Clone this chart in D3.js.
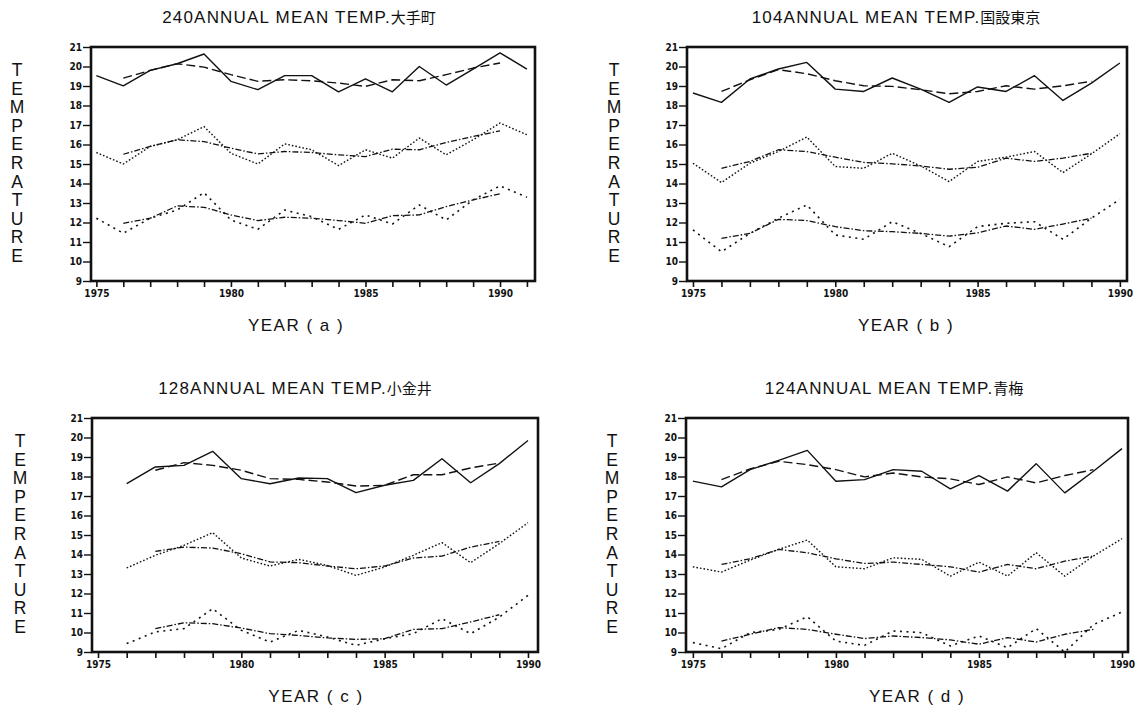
<!DOCTYPE html>
<html>
<head>
<meta charset="utf-8">
<script src="https://cdn.jsdelivr.net/npm/d3@7"></script>
<style>
body { margin: 0; background: #fff; }
</style>
</head>
<body>
<div id="chart"></div>
<script>
// station titles and x-axis captions
const titles = ["240ANNUAL MEAN TEMP.", "104ANNUAL MEAN TEMP.", "128ANNUAL MEAN TEMP.", "124ANNUAL MEAN TEMP."];
const stations = ["大手町", "国設東京", "小金井", "青梅"];
const yearLabels = ["YEAR ( a )", "YEAR ( b )", "YEAR ( c )", "YEAR ( d )"];
const yTicks = [9, 10, 11, 12, 13, 14, 15, 16, 17, 18, 19, 20, 21];
const xLabelYears = [1975, 1980, 1985, 1990];

// (a) 大手町
const yearsA = [1975,1976,1977,1978,1979,1980,1981,1982,1983,1984,1985,1986,1987,1988,1989,1990,1991];
const avgYearsA = [1976,1977,1978,1979,1980,1981,1982,1983,1984,1985,1986,1987,1988,1989,1990];
const hiA = [19.53,19.01,19.8,20.14,20.64,19.24,18.81,19.53,19.53,18.7,19.37,18.7,20.0,19.05,19.87,20.7,19.87];
const hiAvgA = [19.4,19.8,20.14,19.97,19.58,19.24,19.32,19.27,19.15,18.98,19.32,19.27,19.58,19.92,20.18];
const meanA = [15.59,15.0,15.9,16.24,16.92,15.55,15.0,16.03,15.73,14.92,15.73,15.3,16.33,15.47,16.24,17.1,16.5];
const meanAvgA = [15.5,15.9,16.24,16.15,15.81,15.52,15.64,15.59,15.47,15.38,15.76,15.73,16.1,16.41,16.7];
const loA = [12.22,11.45,12.22,12.64,13.53,12.13,11.65,12.64,12.3,11.65,12.39,11.92,12.9,12.13,13.16,13.88,13.3];
const loAvgA = [11.96,12.22,12.85,12.78,12.39,12.1,12.27,12.22,12.1,11.96,12.35,12.39,12.82,13.16,13.47];

// (b) 国設東京
const yearsB = [1975,1976,1977,1978,1979,1980,1981,1982,1983,1984,1985,1986,1987,1988,1989,1990];
const avgYearsB = [1976,1977,1978,1979,1980,1981,1982,1983,1984,1985,1986,1987,1988,1989];
const hiB = [18.64,18.16,19.36,19.87,20.21,18.84,18.72,19.41,18.84,18.16,18.95,18.72,19.53,18.26,19.15,20.18];
const hiAvgB = [18.72,19.32,19.84,19.63,19.27,19.01,18.98,18.81,18.6,18.72,19.01,18.84,19.01,19.24];
const meanB = [15.04,14.05,15.04,15.64,16.38,14.87,14.78,15.55,14.9,14.1,15.13,15.35,15.64,14.56,15.52,16.55];
const meanAvgB = [14.78,15.13,15.73,15.64,15.35,15.08,15.01,14.9,14.73,14.83,15.3,15.13,15.3,15.55];
const loB = [11.62,10.5,11.44,12.22,12.9,11.36,11.14,12.04,11.44,10.76,11.79,11.96,12.04,11.14,12.22,13.19];
const loAvgB = [11.19,11.44,12.16,12.1,11.79,11.58,11.53,11.44,11.3,11.47,11.82,11.65,11.92,12.22];

// (c) 小金井
const yearsC = [1976,1977,1978,1979,1980,1981,1982,1983,1984,1985,1986,1987,1988,1989,1990];
const avgYearsC = [1977,1978,1979,1980,1981,1982,1983,1984,1985,1986,1987,1988,1989];
const hiC = [17.63,18.49,18.57,19.29,17.89,17.63,17.92,17.89,17.17,17.55,17.8,18.91,17.68,18.66,19.85];
const hiAvgC = [18.32,18.71,18.57,18.32,17.89,17.85,17.72,17.51,17.55,18.09,18.09,18.44,18.69];
const meanC = [13.31,13.96,14.47,15.12,13.82,13.41,13.75,13.44,12.93,13.36,13.96,14.61,13.58,14.56,15.63];
const meanAvgC = [14.16,14.38,14.33,14.04,13.62,13.58,13.41,13.27,13.41,13.82,13.92,14.38,14.67];
const loC = [9.43,10.03,10.2,11.22,10.11,9.51,10.11,9.77,9.34,9.68,9.94,10.71,9.94,10.79,11.9];
const loAvgC = [10.2,10.5,10.45,10.23,9.94,9.85,9.72,9.65,9.68,10.16,10.2,10.54,10.91];

// (d) 青梅
const yearsD = [1975,1976,1977,1978,1979,1980,1981,1982,1983,1984,1985,1986,1987,1988,1989,1990];
const avgYearsD = [1976,1977,1978,1979,1980,1981,1982,1983,1984,1985,1986,1987,1988,1989];
const hiD = [17.76,17.47,18.35,18.83,19.34,17.76,17.84,18.35,18.27,17.37,18.05,17.25,18.66,17.16,18.27,19.43];
const hiAvgD = [17.84,18.39,18.78,18.61,18.35,17.98,18.18,17.98,17.88,17.59,17.98,17.67,18.05,18.35];
const meanD = [13.37,13.1,13.71,14.26,14.74,13.37,13.27,13.83,13.75,12.89,13.61,12.89,14.09,12.89,13.92,14.81];
const meanAvgD = [13.49,13.78,14.26,14.09,13.78,13.54,13.61,13.49,13.37,13.1,13.49,13.27,13.66,13.92];
const loD = [9.48,9.17,9.99,10.16,10.81,9.56,9.34,10.08,9.99,9.31,9.82,9.22,10.2,9.0,10.4,11.05];
const loAvgD = [9.56,9.91,10.25,10.16,9.91,9.69,9.82,9.74,9.62,9.4,9.74,9.51,9.91,10.16];

// frame boxes of the four plots on the page
const panels = [
  {left: 91, top: 47, w: 444, h: 234, x0: 1974.8, x1: 1991.3, lastTick: 1991, titleX: 299, yearX: 296, tempX: 17,
   years: yearsA, avgYears: avgYearsA, hi: hiA, hiAvg: hiAvgA, mean: meanA, meanAvg: meanAvgA, lo: loA, loAvg: loAvgA},
  {left: 687, top: 47, w: 440, h: 234, x0: 1974.79, x1: 1990.25, lastTick: 1990, titleX: 896, yearX: 906, tempX: 614,
   years: yearsB, avgYears: avgYearsB, hi: hiB, hiAvg: hiAvgB, mean: meanB, meanAvg: meanAvgB, lo: loB, loAvg: loAvgB},
  {left: 92, top: 418, w: 446, h: 234, x0: 1974.79, x1: 1990.35, lastTick: 1990, titleX: 295, yearX: 316, tempX: 20,
   years: yearsC, avgYears: avgYearsC, hi: hiC, hiAvg: hiAvgC, mean: meanC, meanAvg: meanAvgC, lo: loC, loAvg: loAvgC},
  {left: 686, top: 418, w: 442, h: 234, x0: 1974.76, x1: 1990.21, lastTick: 1990, titleX: 894, yearX: 917, tempX: 612,
   years: yearsD, avgYears: avgYearsD, hi: hiD, hiAvg: hiAvgD, mean: meanD, meanAvg: meanAvgD, lo: loD, loAvg: loAvgD}
];

const ink = "#111";
const latin = "'Liberation Sans', Arial, sans-serif";
const cjk = "'Noto Sans CJK JP', sans-serif";
const tickFont = "'DejaVu Sans Condensed', 'DejaVu Sans', sans-serif";

var svg = d3.select("#chart").append("svg")
    .attr("width", 1147)
    .attr("height", 712)
    .style("background", "#fff");

panels.forEach((p, i) => drawPanel(p, i));

function drawPanel(p, i) {
    var g = svg.append("g")
        .attr("transform", "translate(" + p.left + "," + p.top + ")");

    var xScale = d3.scaleLinear().domain([p.x0, p.x1]).range([0, p.w]);
    var yScale = d3.scaleLinear().domain([9, 21]).range([p.h, 0]);

    var tickYears = [];
    for (let yr = 1975; yr <= p.lastTick; yr++) tickYears.push(yr);

    // x axis: a tick every year, labels every 5
    var xAxis = g.append("g")
        .attr("transform", "translate(0," + p.h + ")")
        .call(d3.axisBottom(xScale)
            .tickValues(tickYears)
            .tickSize(6)
            .tickPadding(3)
            .tickFormat(d => xLabelYears.includes(d) ? d : ""));
    xAxis.select(".domain").remove();
    xAxis.selectAll("line").attr("stroke", ink).attr("stroke-width", 1.6);
    xAxis.selectAll("text")
        .attr("fill", ink)
        .style("font-family", tickFont)
        .style("font-size", "10px")
        .style("font-weight", "bold");

    var yAxis = g.append("g")
        .call(d3.axisLeft(yScale)
            .tickValues(yTicks)
            .tickSize(8)
            .tickPadding(1)
            .tickFormat(d3.format("d")));
    yAxis.select(".domain").remove();
    yAxis.selectAll("line").attr("stroke", ink).attr("stroke-width", 1.4);
    yAxis.selectAll("text")
        .attr("fill", ink)
        .style("font-family", tickFont)
        .style("font-size", "10px")
        .style("font-weight", "bold");

    // frame
    g.append("rect")
        .attr("x", 0).attr("y", 0)
        .attr("width", p.w).attr("height", p.h)
        .attr("fill", "none")
        .attr("stroke", ink)
        .attr("stroke-width", 2.6);

    var line = d3.line()
        .x(d => xScale(d[0]))
        .y(d => yScale(d[1]));

    var series = [
        {yrs: p.years, vals: p.hi, dash: null, w: 1.4},
        {yrs: p.avgYears, vals: p.hiAvg, dash: "9,4", w: 1.4},
        {yrs: p.years, vals: p.mean, dash: "1.6,2", w: 1.4},
        {yrs: p.avgYears, vals: p.meanAvg, dash: "6,2,1.5,2", w: 1.3},
        {yrs: p.years, vals: p.lo, dash: "2,4.5", w: 1.6},
        {yrs: p.avgYears, vals: p.loAvg, dash: "6,2,1.5,2", w: 1.3}
    ];

    series.forEach(s => {
        g.append("path")
            .datum(s.yrs.map((yr, k) => [yr, s.vals[k]]))
            .attr("fill", "none")
            .attr("stroke", ink)
            .attr("stroke-width", s.w)
            .attr("stroke-dasharray", s.dash)
            .attr("stroke-linejoin", "round")
            .attr("d", line);
    });

    // title
    var titleY = p.top - 24;
    var t = svg.append("text")
        .attr("x", p.titleX)
        .attr("y", titleY)
        .attr("text-anchor", "middle")
        .attr("fill", ink);
    t.append("tspan")
        .style("font-family", latin)
        .style("font-size", "17px")
        .style("letter-spacing", "1.2px")
        .text(titles[i]);
    t.append("tspan")
        .style("font-family", cjk)
        .style("font-size", "15px")
        .text(stations[i]);

    // x caption
    svg.append("text")
        .attr("x", p.yearX)
        .attr("y", p.top + p.h + 50)
        .attr("text-anchor", "middle")
        .attr("fill", ink)
        .style("font-family", latin)
        .style("font-size", "17px")
        .style("letter-spacing", "1.5px")
        .text(yearLabels[i]);

    // vertical stacked y caption
    var letters = "TEMPERATURE".split("");
    svg.selectAll(null)
        .data(letters)
        .enter().append("text")
        .attr("x", p.tempX)
        .attr("y", (d, k) => p.top + 29 + k * 18.6)
        .attr("text-anchor", "middle")
        .attr("fill", ink)
        .style("font-family", latin)
        .style("font-size", "17.5px")
        .text(d => d);
}
</script>
</body>
</html>
